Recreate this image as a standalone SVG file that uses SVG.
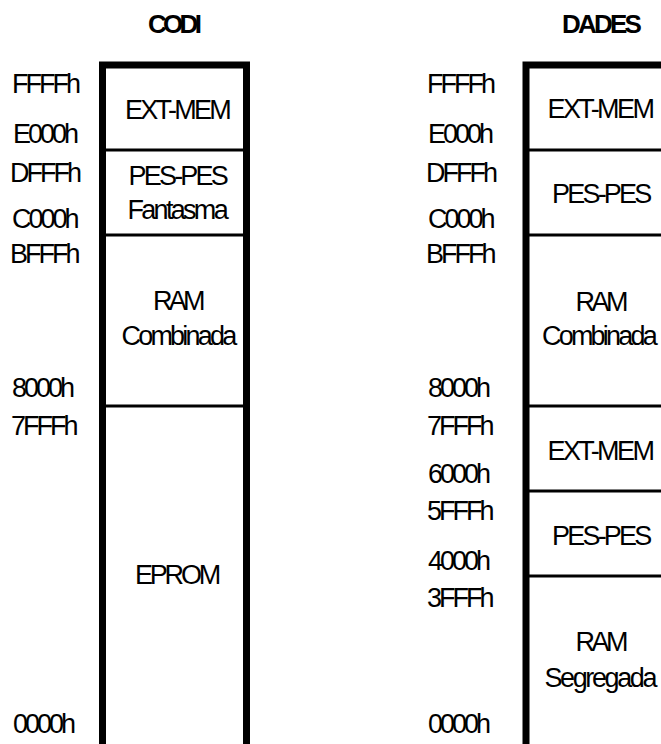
<svg xmlns="http://www.w3.org/2000/svg" width="661" height="744" viewBox="0 0 661 744">
<style>
text{font-family:"Liberation Sans",Arial,sans-serif;font-size:27px;fill:#000;letter-spacing:-2.8px;}
.a{letter-spacing:-3px;}
.t{font-weight:bold;font-size:26px;}
.outer{fill:none;stroke:#000;stroke-width:7;}
.sep{stroke:#000;stroke-width:3;fill:none;}
</style>
<rect width="661" height="744" fill="#fff"/>
<g id="title-codi"><text class="t" x="148" y="33" style="letter-spacing:-3.7px">CODI</text></g>
<g id="title-dades"><text class="t" x="562" y="33" style="letter-spacing:-2.8px">DADES</text></g>

<g id="codi-box">
<path class="outer" d="M102.5,744 V65 H246.5 V744"/>
<line class="sep" x1="106" y1="150" x2="243" y2="150"/>
<line class="sep" x1="106" y1="235" x2="243" y2="235"/>
<line class="sep" x1="106" y1="406" x2="243" y2="406"/>
</g>
<g id="codi-extmem"><text x="125" y="119" style="letter-spacing:-2.7px">EXT-MEM</text></g>
<g id="codi-pespes"><text x="128.5" y="185">PES-PES</text><text x="127.5" y="219" style="letter-spacing:-2.7px">Fantasma</text></g>
<g id="codi-ram"><text x="153" y="310" style="letter-spacing:-3.7px">RAM</text><text x="121.5" y="345">Combinada</text></g>
<g id="codi-eprom"><text x="135" y="584" style="letter-spacing:-3.2px">EPROM</text></g>

<g id="codi-addr">
<text class="a" x="12" y="93">FFFFh</text>
<text class="a" x="13" y="143">E000h</text>
<text class="a" x="10" y="182">DFFFh</text>
<text class="a" x="12" y="228">C000h</text>
<text class="a" x="10" y="263">BFFFh</text>
<text class="a" x="12" y="397">8000h</text>
<text class="a" x="11" y="435">7FFFh</text>
<text class="a" x="13" y="733">0000h</text>
</g>

<g id="dades-box">
<path class="outer" d="M526,744 V65 H661"/>
<line class="sep" x1="529" y1="150" x2="661" y2="150"/>
<line class="sep" x1="529" y1="235" x2="661" y2="235"/>
<line class="sep" x1="529" y1="406" x2="661" y2="406"/>
<line class="sep" x1="529" y1="491" x2="661" y2="491"/>
<line class="sep" x1="529" y1="576" x2="661" y2="576"/>
</g>
<g id="dades-extmem1"><text x="547.5" y="118" style="letter-spacing:-2.6px">EXT-MEM</text></g>
<g id="dades-pespes1"><text x="552" y="203">PES-PES</text></g>
<g id="dades-ram1"><text x="575.5" y="311" style="letter-spacing:-3.5px">RAM</text><text x="542" y="345">Combinada</text></g>
<g id="dades-extmem2"><text x="547.5" y="460" style="letter-spacing:-2.6px">EXT-MEM</text></g>
<g id="dades-pespes2"><text x="552" y="545">PES-PES</text></g>
<g id="dades-ram2"><text x="575.5" y="651" style="letter-spacing:-3.5px">RAM</text><text x="544.5" y="687" style="letter-spacing:-2.4px">Segregada</text></g>

<g id="dades-addr">
<text class="a" x="427" y="93">FFFFh</text>
<text class="a" x="428" y="143">E000h</text>
<text class="a" x="426" y="182">DFFFh</text>
<text class="a" x="428" y="228">C000h</text>
<text class="a" x="426" y="263">BFFFh</text>
<text class="a" x="428" y="397">8000h</text>
<text class="a" x="427" y="435">7FFFh</text>
<text class="a" x="428" y="483">6000h</text>
<text class="a" x="427" y="520">5FFFh</text>
<text class="a" x="428" y="570">4000h</text>
<text class="a" x="427" y="607">3FFFh</text>
<text class="a" x="428" y="733">0000h</text>
</g>
</svg>
